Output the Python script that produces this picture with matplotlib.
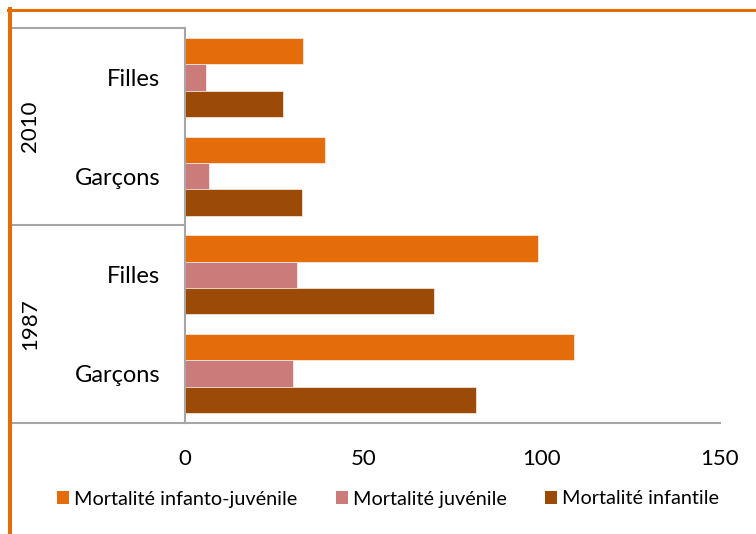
import matplotlib
matplotlib.use("Agg")
import matplotlib.pyplot as plt
from matplotlib.lines import Line2D
from matplotlib.patches import Patch
from matplotlib.transforms import blended_transform_factory

plt.rcParams['font.family'] = ['Lato', 'DejaVu Sans']

# Data (top to bottom)
sexes = ["Filles", "Garçons", "Filles", "Garçons"]
years = ["2010", "1987"]
series_names = ["Mortalité infanto-juvénile", "Mortalité juvénile", "Mortalité infantile"]
infanto_juvenile = [33.2, 39.3, 98.9, 109.2]
juvenile = [5.9, 6.7, 31.3, 30.3]
infantile = [27.6, 32.8, 69.9, 81.5]
xticks = [0, 50, 100, 150]

colors = ["#E46C0A", "#CC7B7B", "#9C4A07"]
ORANGE = "#E46C0A"
GRID = "#A6A6A6"

W, H = 756, 534
fig = plt.figure(figsize=(W / 100, H / 100), dpi=100)

def fx(px):
    return px / W

def fy(py):
    return 1 - py / H

ax_l, ax_r, ax_t, ax_b = 185, 720, 28, 423
ax = fig.add_axes([fx(ax_l), fy(ax_b), fx(ax_r - ax_l), (ax_b - ax_t) / H])

bh = 0.267
ypos = list(range(len(sexes)))
for k, (vals, off) in enumerate(zip([infanto_juvenile, juvenile, infantile], [-bh, 0, bh])):
    ax.barh([y + off for y in ypos], vals, height=bh, color=colors[k],
            edgecolor="white", linewidth=0.4, label=series_names[k])

ax.set_ylim(3.5, -0.5)
ax.set_xlim(0, 150)
ax.set_xticks(xticks)
ax.set_xticklabels([str(v) for v in xticks], fontsize=16)
ax.tick_params(axis='x', length=0, pad=19)
ax.set_yticks(ypos)
ax.set_yticklabels(sexes, fontsize=17)
ax.tick_params(axis='y', length=0, pad=18)
for s in ax.spines.values():
    s.set_visible(False)

# Year labels
tr = blended_transform_factory(ax.transAxes, ax.transData)
ax.text((30 - ax_l) / (ax_r - ax_l), 0.5, years[0], rotation=90, transform=tr,
        ha='center', va='center', fontsize=16)
ax.text((30 - ax_l) / (ax_r - ax_l), 2.5, years[1], rotation=90, transform=tr,
        ha='center', va='center', fontsize=16)

# Category box lines (grey)
lw = 1.5
fig.add_artist(Line2D([fx(12), fx(720)], [fy(423), fy(423)], color=GRID, lw=lw))
fig.add_artist(Line2D([fx(185), fx(185)], [fy(28), fy(423)], color=GRID, lw=lw))
fig.add_artist(Line2D([fx(12), fx(185)], [fy(28), fy(28)], color=GRID, lw=lw))
fig.add_artist(Line2D([fx(12), fx(185)], [fy(225), fy(225)], color=GRID, lw=lw))

# Orange frame (top and left)
fig.add_artist(Line2D([fx(8), fx(756)], [fy(10.3), fy(10.3)], color=ORANGE, lw=2.2))
fig.add_artist(Line2D([fx(10), fx(10)], [fy(9), fy(534)], color=ORANGE, lw=2.9))

# Legend
handles = [Patch(facecolor=c, edgecolor='none') for c in colors]
fig.legend(handles, series_names, loc='center', bbox_to_anchor=(fx(388), fy(499)),
           ncol=3, frameon=False, fontsize=14.3, handlelength=0.6, handleheight=0.6,
           handletextpad=0.25, columnspacing=1.95, borderaxespad=0)

fig.savefig("out.png", dpi=100)
